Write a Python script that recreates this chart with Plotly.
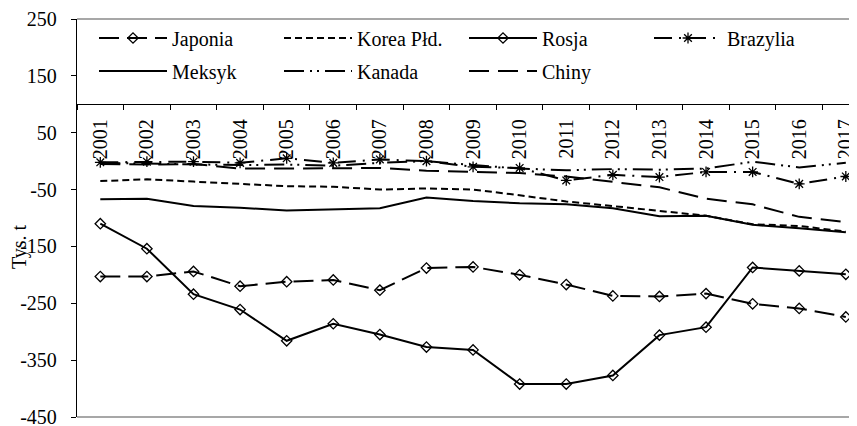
import plotly.graph_objects as go

years = [str(y) for y in range(2001, 2018)]
japonia = [-203, -203, -194, -220, -212, -209, -227, -188, -186, -200, -217, -237, -238, -233, -251, -259, -274]
korea = [-35, -32, -36, -40, -44, -45, -50, -48, -50, -60, -71, -79, -87, -96, -111, -114, -124]
rosja = [-110, -154, -234, -261, -316, -286, -305, -327, -332, -392, -392, -377, -306, -292, -187, -193, -199]
brazylia = [-2, -1, -1, -3, 5, -3, 3, 0, -10, -12, -34, -24, -28, -19, -19, -40, -27]
meksyk = [-67, -66, -79, -82, -87, -85, -83, -64, -70, -74, -76, -83, -97, -96, -112, -118, -125]
kanada = [-3, -4, -5, -7, -6, -8, -3, 0, -7, -13, -16, -14, -15, -13, -1, -11, -3]
chiny = [-5, -6, -5, -13, -13, -12, -12, -17, -19, -21, -27, -36, -46, -66, -76, -98, -107]

y_ticks = list(range(-450, 251, 100))
FONT = "Liberation Serif, Times New Roman, serif"
# the page body has an 8px margin, so the figure is shifted by that offset
W, H = 849, 426
L, R, T, B = 69, 0, 11, 17
Y_MIN, Y_MAX = -450, 250
X_CROSS = 100

fig = go.Figure()

diamond = dict(symbol="diamond-open", size=8, color="black", line=dict(width=1.3, color="black"))

fig.add_trace(go.Scatter(x=years, y=japonia, name="Japonia", mode="lines+markers",
                         line=dict(color="black", width=2, dash="20px,8px"),
                         marker=diamond, legend="legend"))
fig.add_trace(go.Scatter(x=years, y=korea, name="Korea Płd.", mode="lines",
                         line=dict(color="black", width=2, dash="7px,4px"), legend="legend"))
fig.add_trace(go.Scatter(x=years, y=rosja, name="Rosja", mode="lines+markers",
                         line=dict(color="black", width=2), marker=diamond, legend="legend"))
fig.add_trace(go.Scatter(x=years, y=brazylia, name="Brazylia", mode="lines+markers",
                         line=dict(color="black", width=2, dash="18px,7px,2px,7px"),
                         marker=dict(symbol="asterisk-open", size=9,
                                     line=dict(width=1.3, color="black"), color="black"),
                         legend="legend"))
fig.add_trace(go.Scatter(x=years, y=meksyk, name="Meksyk", mode="lines",
                         line=dict(color="black", width=2), legend="legend2"))
fig.add_trace(go.Scatter(x=years, y=kanada, name="Kanada", mode="lines",
                         line=dict(color="black", width=2, dash="20px,6px,2px,5px,2px,6px"),
                         legend="legend2"))
fig.add_trace(go.Scatter(x=years, y=chiny, name="Chiny", mode="lines",
                         line=dict(color="black", width=2, dash="20px,9px"), legend="legend2"))

plot_h = H - T - B
cross_pos = (X_CROSS - Y_MIN) / (Y_MAX - Y_MIN)

legend_common = dict(orientation="h", xref="container", yref="container",
                     xanchor="left", yanchor="middle", x=86 / W,
                     font=dict(family=FONT, size=20, color="black"),
                     bgcolor="rgba(0,0,0,0)", itemwidth=68,
                     entrywidth=102, entrywidthmode="pixels", traceorder="normal")

fig.update_layout(
    width=W, height=H,
    margin=dict(l=L, r=R, t=T, b=B, autoexpand=False),
    paper_bgcolor="white", plot_bgcolor="white",
    font=dict(family=FONT, size=20, color="black"),
    showlegend=True,
    legend=dict(legend_common, y=1 - 30 / H),
    legend2=dict(legend_common, y=1 - 63 / H),
    xaxis=dict(type="category", categoryorder="array", categoryarray=years,
               range=[-0.5, 16.24], anchor="free", position=cross_pos,
               showline=True, linecolor="black", linewidth=1,
               ticks="outside", ticklen=5, tickcolor="black", tickwidth=1,
               tickson="boundaries", tickangle=-90, ticklabelstandoff=6,
               ticklabeloverflow="allow",
               tickfont=dict(family=FONT, size=20, color="black"),
               showgrid=False, zeroline=False, layer="below traces"),
    yaxis=dict(range=[Y_MIN, Y_MAX], tickvals=y_ticks, ticktext=[str(v) for v in y_ticks],
               showline=True, linecolor="black", linewidth=1.3,
               ticks="outside", ticklen=5, tickcolor="black",
               ticklabelstandoff=10, ticklabeloverflow="allow",
               tickfont=dict(family=FONT, size=20, color="black"),
               showgrid=False, zeroline=False),
    shapes=[
        dict(type="line", xref="paper", yref="paper", x0=0, x1=1, y0=1, y1=1,
             line=dict(color="#8a8a8a", width=1.5)),
        dict(type="line", xref="paper", yref="paper", x0=0, x1=1, y0=0, y1=0,
             line=dict(color="#8a8a8a", width=1.5)),
    ],
    annotations=[
        dict(text="Tys. t", xref="paper", yref="paper",
             x=(19 - 77) / (W - L - R), y=(417 - 247) / plot_h,
             textangle=-90, showarrow=False, xanchor="center", yanchor="middle",
             borderpad=0,
             font=dict(family=FONT, size=20, color="black")),
    ],
)

fig.write_html("out.html")
